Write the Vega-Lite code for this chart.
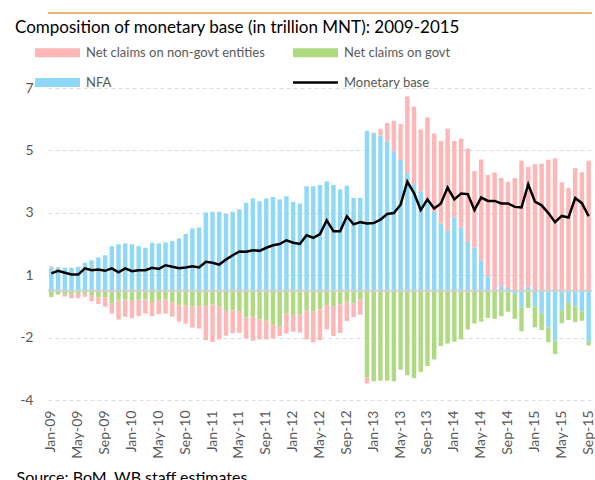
{
  "$schema": "https://vega.github.io/schema/vega-lite/v6.json",
  "autosize": "none",
  "width": 544,
  "height": 312,
  "padding": {"left": 48, "top": 88, "right": 3, "bottom": 80},
  "background": "white",
  "title": {"text": "Composition of monetary base (in trillion MNT): 2009-2015", "anchor": "start", "frame": "group", "dx": -33, "fontSize": 17, "font": "Lato", "fontWeight": "normal", "color": "#000000", "offset": -25},
  "config": {"view": {"stroke": null}, "font": "Lato"},
  "datasets": {
    "bars": [
      {"m":"Jan-09","s":"NFA","v":0.75},{"m":"Jan-09","s":"Net claims on govt","v":-0.2},{"m":"Jan-09","s":"Net claims on non-govt entities","v":0.04},
      {"m":"Feb-09","s":"NFA","v":0.75},{"m":"Feb-09","s":"Net claims on govt","v":-0.12},{"m":"Feb-09","s":"Net claims on non-govt entities","v":0.01},
      {"m":"Mar-09","s":"NFA","v":0.74},{"m":"Mar-09","s":"Net claims on govt","v":-0.13},{"m":"Mar-09","s":"Net claims on non-govt entities","v":-0.05},
      {"m":"Apr-09","s":"NFA","v":0.74},{"m":"Apr-09","s":"Net claims on govt","v":-0.12},{"m":"Apr-09","s":"Net claims on non-govt entities","v":-0.12},
      {"m":"May-09","s":"NFA","v":0.77},{"m":"May-09","s":"Net claims on govt","v":-0.11},{"m":"May-09","s":"Net claims on non-govt entities","v":-0.13},
      {"m":"Jun-09","s":"NFA","v":0.9},{"m":"Jun-09","s":"Net claims on govt","v":-0.1},{"m":"Jun-09","s":"Net claims on non-govt entities","v":-0.09},
      {"m":"Jul-09","s":"NFA","v":0.98},{"m":"Jul-09","s":"Net claims on govt","v":-0.16},{"m":"Jul-09","s":"Net claims on non-govt entities","v":-0.17},
      {"m":"Aug-09","s":"NFA","v":1.07},{"m":"Aug-09","s":"Net claims on govt","v":-0.21},{"m":"Aug-09","s":"Net claims on non-govt entities","v":-0.21},
      {"m":"Sep-09","s":"NFA","v":1.14},{"m":"Sep-09","s":"Net claims on govt","v":-0.21},{"m":"Sep-09","s":"Net claims on non-govt entities","v":-0.3},
      {"m":"Oct-09","s":"NFA","v":1.43},{"m":"Oct-09","s":"Net claims on govt","v":-0.41},{"m":"Oct-09","s":"Net claims on non-govt entities","v":-0.32},
      {"m":"Nov-09","s":"NFA","v":1.49},{"m":"Nov-09","s":"Net claims on govt","v":-0.32},{"m":"Nov-09","s":"Net claims on non-govt entities","v":-0.6},
      {"m":"Dec-09","s":"NFA","v":1.52},{"m":"Dec-09","s":"Net claims on govt","v":-0.28},{"m":"Dec-09","s":"Net claims on non-govt entities","v":-0.55},
      {"m":"Jan-10","s":"NFA","v":1.49},{"m":"Jan-10","s":"Net claims on govt","v":-0.32},{"m":"Jan-10","s":"Net claims on non-govt entities","v":-0.56},
      {"m":"Feb-10","s":"NFA","v":1.43},{"m":"Feb-10","s":"Net claims on govt","v":-0.28},{"m":"Feb-10","s":"Net claims on non-govt entities","v":-0.53},
      {"m":"Mar-10","s":"NFA","v":1.38},{"m":"Mar-10","s":"Net claims on govt","v":-0.28},{"m":"Mar-10","s":"Net claims on non-govt entities","v":-0.45},
      {"m":"Apr-10","s":"NFA","v":1.54},{"m":"Apr-10","s":"Net claims on govt","v":-0.36},{"m":"Apr-10","s":"Net claims on non-govt entities","v":-0.45},
      {"m":"May-10","s":"NFA","v":1.52},{"m":"May-10","s":"Net claims on govt","v":-0.3},{"m":"May-10","s":"Net claims on non-govt entities","v":-0.45},
      {"m":"Jun-10","s":"NFA","v":1.55},{"m":"Jun-10","s":"Net claims on govt","v":-0.28},{"m":"Jun-10","s":"Net claims on non-govt entities","v":-0.45},
      {"m":"Jul-10","s":"NFA","v":1.6},{"m":"Jul-10","s":"Net claims on govt","v":-0.38},{"m":"Jul-10","s":"Net claims on non-govt entities","v":-0.45},
      {"m":"Aug-10","s":"NFA","v":1.68},{"m":"Aug-10","s":"Net claims on govt","v":-0.46},{"m":"Aug-10","s":"Net claims on non-govt entities","v":-0.53},
      {"m":"Sep-10","s":"NFA","v":1.82},{"m":"Sep-10","s":"Net claims on govt","v":-0.47},{"m":"Sep-10","s":"Net claims on non-govt entities","v":-0.58},
      {"m":"Oct-10","s":"NFA","v":2.0},{"m":"Oct-10","s":"Net claims on govt","v":-0.51},{"m":"Oct-10","s":"Net claims on non-govt entities","v":-0.67},
      {"m":"Nov-10","s":"NFA","v":2.03},{"m":"Nov-10","s":"Net claims on govt","v":-0.49},{"m":"Nov-10","s":"Net claims on non-govt entities","v":-0.72},
      {"m":"Dec-10","s":"NFA","v":2.51},{"m":"Dec-10","s":"Net claims on govt","v":-0.49},{"m":"Dec-10","s":"Net claims on non-govt entities","v":-1.09},
      {"m":"Jan-11","s":"NFA","v":2.53},{"m":"Jan-11","s":"Net claims on govt","v":-0.44},{"m":"Jan-11","s":"Net claims on non-govt entities","v":-1.2},
      {"m":"Feb-11","s":"NFA","v":2.53},{"m":"Feb-11","s":"Net claims on govt","v":-0.51},{"m":"Feb-11","s":"Net claims on non-govt entities","v":-1.05},
      {"m":"Mar-11","s":"NFA","v":2.46},{"m":"Mar-11","s":"Net claims on govt","v":-0.65},{"m":"Mar-11","s":"Net claims on non-govt entities","v":-0.79},
      {"m":"Apr-11","s":"NFA","v":2.53},{"m":"Apr-11","s":"Net claims on govt","v":-0.63},{"m":"Apr-11","s":"Net claims on non-govt entities","v":-0.73},
      {"m":"May-11","s":"NFA","v":2.61},{"m":"May-11","s":"Net claims on govt","v":-0.65},{"m":"May-11","s":"Net claims on non-govt entities","v":-0.7},
      {"m":"Jun-11","s":"NFA","v":2.82},{"m":"Jun-11","s":"Net claims on govt","v":-0.85},{"m":"Jun-11","s":"Net claims on non-govt entities","v":-0.67},
      {"m":"Jul-11","s":"NFA","v":2.96},{"m":"Jul-11","s":"Net claims on govt","v":-0.83},{"m":"Jul-11","s":"Net claims on non-govt entities","v":-0.77},
      {"m":"Aug-11","s":"NFA","v":2.87},{"m":"Aug-11","s":"Net claims on govt","v":-0.92},{"m":"Aug-11","s":"Net claims on non-govt entities","v":-0.64},
      {"m":"Sep-11","s":"NFA","v":2.96},{"m":"Sep-11","s":"Net claims on govt","v":-0.96},{"m":"Sep-11","s":"Net claims on non-govt entities","v":-0.6},
      {"m":"Oct-11","s":"NFA","v":3.01},{"m":"Oct-11","s":"Net claims on govt","v":-1.1},{"m":"Oct-11","s":"Net claims on non-govt entities","v":-0.43},
      {"m":"Nov-11","s":"NFA","v":2.93},{"m":"Nov-11","s":"Net claims on govt","v":-1.13},{"m":"Nov-11","s":"Net claims on non-govt entities","v":-0.32},
      {"m":"Dec-11","s":"NFA","v":3.03},{"m":"Dec-11","s":"Net claims on govt","v":-0.73},{"m":"Dec-11","s":"Net claims on non-govt entities","v":-0.64},
      {"m":"Jan-12","s":"NFA","v":2.85},{"m":"Jan-12","s":"Net claims on govt","v":-0.78},{"m":"Jan-12","s":"Net claims on non-govt entities","v":-0.53},
      {"m":"Feb-12","s":"NFA","v":2.8},{"m":"Feb-12","s":"Net claims on govt","v":-0.75},{"m":"Feb-12","s":"Net claims on non-govt entities","v":-0.59},
      {"m":"Mar-12","s":"NFA","v":3.35},{"m":"Mar-12","s":"Net claims on govt","v":-0.62},{"m":"Mar-12","s":"Net claims on non-govt entities","v":-0.94},
      {"m":"Apr-12","s":"NFA","v":3.35},{"m":"Apr-12","s":"Net claims on govt","v":-0.67},{"m":"Apr-12","s":"Net claims on non-govt entities","v":-0.98},
      {"m":"May-12","s":"NFA","v":3.39},{"m":"May-12","s":"Net claims on govt","v":-0.59},{"m":"May-12","s":"Net claims on non-govt entities","v":-0.99},
      {"m":"Jun-12","s":"NFA","v":3.51},{"m":"Jun-12","s":"Net claims on govt","v":-0.46},{"m":"Jun-12","s":"Net claims on non-govt entities","v":-0.78},
      {"m":"Jul-12","s":"NFA","v":3.39},{"m":"Jul-12","s":"Net claims on govt","v":-0.49},{"m":"Jul-12","s":"Net claims on non-govt entities","v":-0.96},
      {"m":"Aug-12","s":"NFA","v":3.25},{"m":"Aug-12","s":"Net claims on govt","v":-0.44},{"m":"Aug-12","s":"Net claims on non-govt entities","v":-0.91},
      {"m":"Sep-12","s":"NFA","v":3.37},{"m":"Sep-12","s":"Net claims on govt","v":-0.35},{"m":"Sep-12","s":"Net claims on non-govt entities","v":-0.62},
      {"m":"Oct-12","s":"NFA","v":2.98},{"m":"Oct-12","s":"Net claims on govt","v":-0.41},{"m":"Oct-12","s":"Net claims on non-govt entities","v":-0.43},
      {"m":"Nov-12","s":"NFA","v":2.98},{"m":"Nov-12","s":"Net claims on govt","v":-0.28},{"m":"Nov-12","s":"Net claims on non-govt entities","v":-0.49},
      {"m":"Dec-12","s":"NFA","v":5.13},{"m":"Dec-12","s":"Net claims on govt","v":-2.78},{"m":"Dec-12","s":"Net claims on non-govt entities","v":-0.19},
      {"m":"Jan-13","s":"NFA","v":5.05},{"m":"Jan-13","s":"Net claims on govt","v":-2.9},{"m":"Jan-13","s":"Net claims on non-govt entities","v":0.02},
      {"m":"Feb-13","s":"NFA","v":4.98},{"m":"Feb-13","s":"Net claims on govt","v":-2.88},{"m":"Feb-13","s":"Net claims on non-govt entities","v":0.2},
      {"m":"Mar-13","s":"NFA","v":4.79},{"m":"Mar-13","s":"Net claims on govt","v":-2.88},{"m":"Mar-13","s":"Net claims on non-govt entities","v":0.59},
      {"m":"Apr-13","s":"NFA","v":4.47},{"m":"Apr-13","s":"Net claims on govt","v":-2.9},{"m":"Apr-13","s":"Net claims on non-govt entities","v":0.98},
      {"m":"May-13","s":"NFA","v":4.2},{"m":"May-13","s":"Net claims on govt","v":-2.53},{"m":"May-13","s":"Net claims on non-govt entities","v":1.14},
      {"m":"Jun-13","s":"NFA","v":3.77},{"m":"Jun-13","s":"Net claims on govt","v":-2.71},{"m":"Jun-13","s":"Net claims on non-govt entities","v":2.46},
      {"m":"Jul-13","s":"NFA","v":3.42},{"m":"Jul-13","s":"Net claims on govt","v":-2.8},{"m":"Jul-13","s":"Net claims on non-govt entities","v":2.48},
      {"m":"Aug-13","s":"NFA","v":3.19},{"m":"Aug-13","s":"Net claims on govt","v":-2.6},{"m":"Aug-13","s":"Net claims on non-govt entities","v":1.98},
      {"m":"Sep-13","s":"NFA","v":2.8},{"m":"Sep-13","s":"Net claims on govt","v":-2.41},{"m":"Sep-13","s":"Net claims on non-govt entities","v":2.76},
      {"m":"Oct-13","s":"NFA","v":2.53},{"m":"Oct-13","s":"Net claims on govt","v":-2.2},{"m":"Oct-13","s":"Net claims on non-govt entities","v":2.51},
      {"m":"Nov-13","s":"NFA","v":2.16},{"m":"Nov-13","s":"Net claims on govt","v":-1.77},{"m":"Nov-13","s":"Net claims on non-govt entities","v":2.64},
      {"m":"Dec-13","s":"NFA","v":1.92},{"m":"Dec-13","s":"Net claims on govt","v":-1.69},{"m":"Dec-13","s":"Net claims on non-govt entities","v":3.28},
      {"m":"Jan-14","s":"NFA","v":2.35},{"m":"Jan-14","s":"Net claims on govt","v":-1.63},{"m":"Jan-14","s":"Net claims on non-govt entities","v":2.45},
      {"m":"Feb-14","s":"NFA","v":2.03},{"m":"Feb-14","s":"Net claims on govt","v":-1.56},{"m":"Feb-14","s":"Net claims on non-govt entities","v":2.85},
      {"m":"Mar-14","s":"NFA","v":1.57},{"m":"Mar-14","s":"Net claims on govt","v":-1.24},{"m":"Mar-14","s":"Net claims on non-govt entities","v":2.99},
      {"m":"Apr-14","s":"NFA","v":1.38},{"m":"Apr-14","s":"Net claims on govt","v":-1.05},{"m":"Apr-14","s":"Net claims on non-govt entities","v":2.46},
      {"m":"May-14","s":"NFA","v":0.98},{"m":"May-14","s":"Net claims on govt","v":-0.99},{"m":"May-14","s":"Net claims on non-govt entities","v":3.23},
      {"m":"Jun-14","s":"NFA","v":0.47},{"m":"Jun-14","s":"Net claims on govt","v":-0.87},{"m":"Jun-14","s":"Net claims on non-govt entities","v":3.24},
      {"m":"Jul-14","s":"NFA","v":0.02},{"m":"Jul-14","s":"Net claims on govt","v":-0.9},{"m":"Jul-14","s":"Net claims on non-govt entities","v":3.77},
      {"m":"Aug-14","s":"NFA","v":0.15},{"m":"Aug-14","s":"Net claims on govt","v":-0.81},{"m":"Aug-14","s":"Net claims on non-govt entities","v":3.47},
      {"m":"Sep-14","s":"NFA","v":0.09},{"m":"Sep-14","s":"Net claims on govt","v":-0.67},{"m":"Sep-14","s":"Net claims on non-govt entities","v":3.4},
      {"m":"Oct-14","s":"NFA","v":-0.1},{"m":"Oct-14","s":"Net claims on govt","v":-0.8},{"m":"Oct-14","s":"Net claims on non-govt entities","v":3.61},
      {"m":"Nov-14","s":"NFA","v":-0.53},{"m":"Nov-14","s":"Net claims on govt","v":-0.77},{"m":"Nov-14","s":"Net claims on non-govt entities","v":4.17},
      {"m":"Dec-14","s":"NFA","v":0.12},{"m":"Dec-14","s":"Net claims on govt","v":-0.55},{"m":"Dec-14","s":"Net claims on non-govt entities","v":3.85},
      {"m":"Jan-15","s":"NFA","v":-0.5},{"m":"Jan-15","s":"Net claims on govt","v":-0.67},{"m":"Jan-15","s":"Net claims on non-govt entities","v":4.06},
      {"m":"Feb-15","s":"NFA","v":-0.73},{"m":"Feb-15","s":"Net claims on govt","v":-0.53},{"m":"Feb-15","s":"Net claims on non-govt entities","v":4.07},
      {"m":"Mar-15","s":"NFA","v":-1.17},{"m":"Mar-15","s":"Net claims on govt","v":-0.48},{"m":"Mar-15","s":"Net claims on non-govt entities","v":4.2},
      {"m":"Apr-15","s":"NFA","v":-1.6},{"m":"Apr-15","s":"Net claims on govt","v":-0.43},{"m":"Apr-15","s":"Net claims on non-govt entities","v":4.25},
      {"m":"May-15","s":"NFA","v":-0.62},{"m":"May-15","s":"Net claims on govt","v":-0.42},{"m":"May-15","s":"Net claims on non-govt entities","v":3.48},
      {"m":"Jun-15","s":"NFA","v":-0.38},{"m":"Jun-15","s":"Net claims on govt","v":-0.56},{"m":"Jun-15","s":"Net claims on non-govt entities","v":3.29},
      {"m":"Jul-15","s":"NFA","v":-0.5},{"m":"Jul-15","s":"Net claims on govt","v":-0.5},{"m":"Jul-15","s":"Net claims on non-govt entities","v":3.93},
      {"m":"Aug-15","s":"NFA","v":-0.66},{"m":"Aug-15","s":"Net claims on govt","v":-0.3},{"m":"Aug-15","s":"Net claims on non-govt entities","v":3.8},
      {"m":"Sep-15","s":"NFA","v":-1.62},{"m":"Sep-15","s":"Net claims on govt","v":-0.13},{"m":"Sep-15","s":"Net claims on non-govt entities","v":4.17}
    ],
    "base": [
      {"m":"Jan-09","v":0.56},{"m":"Feb-09","v":0.64},{"m":"Mar-09","v":0.58},{"m":"Apr-09","v":0.52},{"m":"May-09","v":0.52},{"m":"Jun-09","v":0.72},
      {"m":"Jul-09","v":0.66},{"m":"Aug-09","v":0.68},{"m":"Sep-09","v":0.64},{"m":"Oct-09","v":0.72},{"m":"Nov-09","v":0.59},{"m":"Dec-09","v":0.72},
      {"m":"Jan-10","v":0.63},{"m":"Feb-10","v":0.66},{"m":"Mar-10","v":0.66},{"m":"Apr-10","v":0.74},{"m":"May-10","v":0.7},{"m":"Jun-10","v":0.82},
      {"m":"Jul-10","v":0.77},{"m":"Aug-10","v":0.72},{"m":"Sep-10","v":0.75},{"m":"Oct-10","v":0.79},{"m":"Nov-10","v":0.75},{"m":"Dec-10","v":0.93},
      {"m":"Jan-11","v":0.9},{"m":"Feb-11","v":0.84},{"m":"Mar-11","v":1.0},{"m":"Apr-11","v":1.14},{"m":"May-11","v":1.26},{"m":"Jun-11","v":1.25},
      {"m":"Jul-11","v":1.3},{"m":"Aug-11","v":1.28},{"m":"Sep-11","v":1.38},{"m":"Oct-11","v":1.46},{"m":"Nov-11","v":1.5},{"m":"Dec-11","v":1.62},
      {"m":"Jan-12","v":1.54},{"m":"Feb-12","v":1.5},{"m":"Mar-12","v":1.78},{"m":"Apr-12","v":1.7},{"m":"May-12","v":1.82},{"m":"Jun-12","v":2.26},
      {"m":"Jul-12","v":1.91},{"m":"Aug-12","v":1.91},{"m":"Sep-12","v":2.39},{"m":"Oct-12","v":2.13},{"m":"Nov-12","v":2.2},{"m":"Dec-12","v":2.16},
      {"m":"Jan-13","v":2.17},{"m":"Feb-13","v":2.28},{"m":"Mar-13","v":2.46},{"m":"Apr-13","v":2.49},{"m":"May-13","v":2.76},{"m":"Jun-13","v":3.5},
      {"m":"Jul-13","v":3.13},{"m":"Aug-13","v":2.59},{"m":"Sep-13","v":2.93},{"m":"Oct-13","v":2.64},{"m":"Nov-13","v":2.8},{"m":"Dec-13","v":3.31},
      {"m":"Jan-14","v":2.93},{"m":"Feb-14","v":3.12},{"m":"Mar-14","v":3.1},{"m":"Apr-14","v":2.59},{"m":"May-14","v":2.99},{"m":"Jun-14","v":2.88},
      {"m":"Jul-14","v":2.88},{"m":"Aug-14","v":2.8},{"m":"Sep-14","v":2.8},{"m":"Oct-14","v":2.69},{"m":"Nov-14","v":2.67},{"m":"Dec-14","v":3.41},
      {"m":"Jan-15","v":2.86},{"m":"Feb-15","v":2.74},{"m":"Mar-15","v":2.49},{"m":"Apr-15","v":2.2},{"m":"May-15","v":2.4},{"m":"Jun-15","v":2.35},
      {"m":"Jul-15","v":2.97},{"m":"Aug-15","v":2.81},{"m":"Sep-15","v":2.39}
    ]
  },
  "encoding": {
    "x": {
      "field": "m", "type": "nominal", "sort": null,
      "scale": {
        "paddingInner": 0.34, "paddingOuter": 0.17,
        "domain": ["Jan-09","Feb-09","Mar-09","Apr-09","May-09","Jun-09","Jul-09","Aug-09","Sep-09","Oct-09","Nov-09","Dec-09",
                   "Jan-10","Feb-10","Mar-10","Apr-10","May-10","Jun-10","Jul-10","Aug-10","Sep-10","Oct-10","Nov-10","Dec-10",
                   "Jan-11","Feb-11","Mar-11","Apr-11","May-11","Jun-11","Jul-11","Aug-11","Sep-11","Oct-11","Nov-11","Dec-11",
                   "Jan-12","Feb-12","Mar-12","Apr-12","May-12","Jun-12","Jul-12","Aug-12","Sep-12","Oct-12","Nov-12","Dec-12",
                   "Jan-13","Feb-13","Mar-13","Apr-13","May-13","Jun-13","Jul-13","Aug-13","Sep-13","Oct-13","Nov-13","Dec-13",
                   "Jan-14","Feb-14","Mar-14","Apr-14","May-14","Jun-14","Jul-14","Aug-14","Sep-14","Oct-14","Nov-14","Dec-14",
                   "Jan-15","Feb-15","Mar-15","Apr-15","May-15","Jun-15","Jul-15","Aug-15","Sep-15"]
      },
      "axis": {
        "values": ["Jan-09","May-09","Sep-09","Jan-10","May-10","Sep-10","Jan-11","May-11","Sep-11","Jan-12","May-12","Sep-12","Jan-13","May-13","Sep-13","Jan-14","May-14","Sep-14","Jan-15","May-15","Sep-15"],
        "labelAngle": -90, "labelAlign": "right", "labelBaseline": "middle", "labelPadding": 10,
        "labelFontSize": 14, "labelColor": "#595959", "labelFont": "Lato", "labelOverlap": false,
        "ticks": false, "domain": false, "grid": false,
        "title": "Source: BoM, WB staff estimates", "titleAnchor": "start", "titleAlign": "left", "titleBaseline": "alphabetic",
        "titleX": -32, "titleY": 82, "titleFontSize": 16, "titleFontWeight": "normal", "titleFont": "Lato", "titleColor": "#000000"
      }
    }
  },
  "layer": [
    {
      "data": {"values": [{"t": 8.9}]},
      "mark": {"type": "rule", "color": "#EE9A4D", "strokeWidth": 1.5, "clip": false},
      "encoding": {"y": {"field": "t", "type": "quantitative"}, "x": null}
    },
    {
      "data": {"name": "bars"},
      "mark": {"type": "bar"},
      "encoding": {
        "y": {
          "field": "v", "type": "quantitative", "stack": "zero",
          "scale": {"domain": [-3.5, 6.5], "nice": false, "zero": false},
          "axis": {
            "values": [-3.5, -1.5, 0.5, 2.5, 4.5, 6.5],
            "labelExpr": "datum.value < 0 ? '-' + round(-datum.value) : '' + round(datum.value)",
            "labelFontSize": 14, "labelColor": "#595959", "labelFont": "Lato", "labelPadding": 15,
            "ticks": false, "domain": false, "grid": true, "gridColor": "#D5DDEA", "gridDash": [4, 3], "gridWidth": 1,
            "title": null
          }
        },
        "color": {
          "field": "s", "type": "nominal",
          "scale": {
            "domain": ["Net claims on non-govt entities", "NFA", "Net claims on govt", "Monetary base"],
            "range": ["#FFB6B6", "#8FD9F7", "#AFDA82", "#000000"]
          },
          "legend": {
            "orient": "none", "legendX": -13, "legendY": -58, "columns": 2, "title": null,
            "symbolType": "M-1,-0.2H1V0.2H-1Z", "symbolSize": 2025, "symbolStrokeWidth": 0,
            "labelFontSize": 13, "labelColor": "#595959", "labelFont": "Lato", "labelOffset": 6, "labelLimit": 400,
            "rowPadding": -31, "columnPadding": 28,
            "encode": {
              "symbols": {
                "update": {
                  "shape": {"signal": "datum.value === 'Monetary base' ? 'M-1,-0.06H1V0.06H-1Z' : 'M-1,-0.2H1V0.2H-1Z'"},
                  "fill": {"scale": "color", "field": "value"},
                  "fillOpacity": {"value": 1},
                  "strokeWidth": {"value": 0}
                }
              }
            }
          }
        },
        "order": {"field": "s", "sort": "ascending"}
      }
    },
    {
      "data": {"values": [{"z": 0}]},
      "mark": {"type": "rule", "color": "#D0D0D0", "strokeWidth": 2},
      "encoding": {"y": {"field": "z", "type": "quantitative"}, "x": null}
    },
    {
      "data": {"name": "base"},
      "mark": {"type": "line", "strokeWidth": 2.5, "color": "#000000"},
      "encoding": {
        "y": {"field": "v", "type": "quantitative"},
        "color": {"datum": "Monetary base"}
      }
    }
  ]
}
